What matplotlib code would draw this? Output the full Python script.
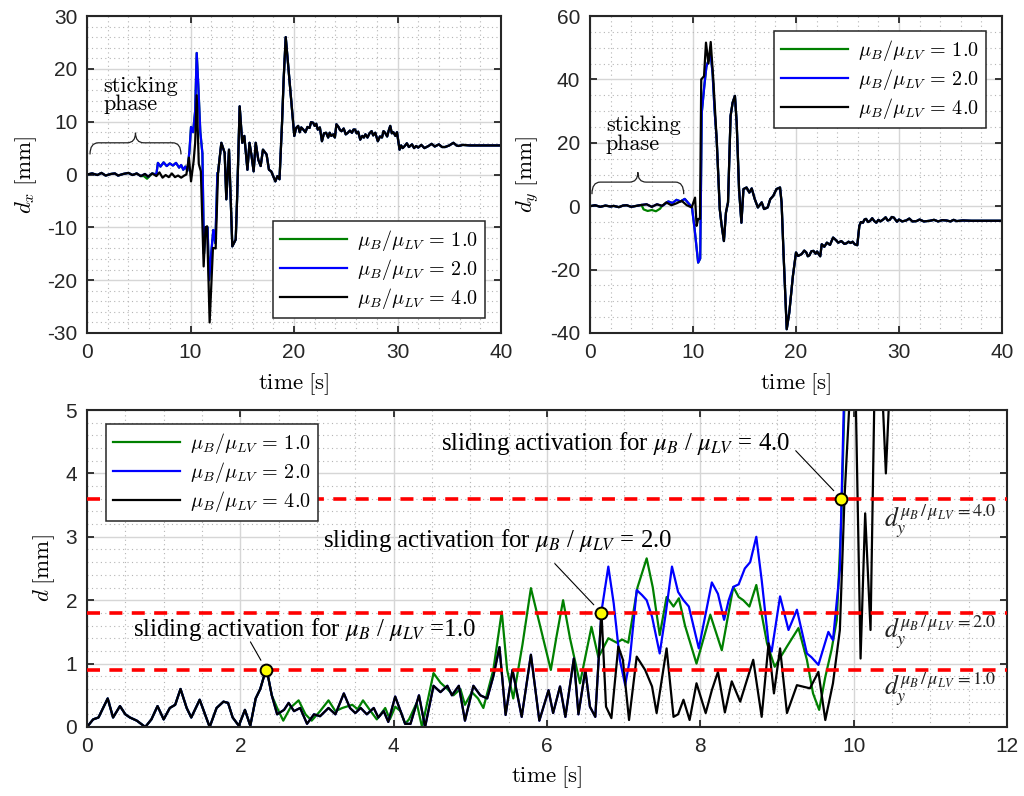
import matplotlib.pyplot as plt
import numpy as np
from matplotlib.path import Path
from matplotlib.patches import PathPatch
from matplotlib.ticker import MultipleLocator

plt.rcParams['font.family'] = ['Liberation Sans', 'DejaVu Sans']
plt.rcParams['mathtext.fontset'] = 'cm'
plt.rcParams['axes.unicode_minus'] = False

# ---------------- data: d_x (top left) ----------------
tx_k = [0, 0.5, 1.0, 1.4, 1.8, 2.3, 2.7, 3.0, 3.5, 4.0,
        4.4, 4.8, 5.2, 5.6, 5.9, 6.3, 6.7, 7.0, 7.3, 7.6,
        7.9, 8.2, 8.5, 8.8, 9.1, 9.4, 9.6, 9.85, 10.05, 10.3,
        10.45, 10.6, 10.8, 11.0, 11.27, 11.45, 11.6, 11.85, 12.17, 12.43,
        12.66, 12.98, 13.3, 13.46, 13.72, 14.04, 14.37, 14.5, 14.75, 15.0,
        15.2, 15.5, 15.7, 15.9, 16.1, 16.3, 16.55, 16.78, 17.0, 17.35,
        17.58, 17.8, 18.2, 18.4, 18.6, 18.85, 19.0, 19.2, 19.6, 20.03,
        20.2, 20.4, 20.55, 20.7, 20.9, 21.1, 21.3, 21.5, 21.65, 21.85,
        22.0, 22.15, 22.3, 22.5, 22.7, 22.9, 23.1, 23.3, 23.45, 23.6,
        23.8, 23.95, 24.1, 24.3, 24.45, 24.6, 24.8, 25.0, 25.2, 25.4,
        25.6, 25.75, 25.9, 26.05, 26.2, 26.4, 26.6, 26.75, 26.9, 27.1,
        27.3, 27.5, 27.65, 27.85, 28.1, 28.3, 28.5, 28.65, 28.8, 29.0,
        29.15, 29.3, 29.45, 29.6, 29.8, 29.95, 30.2, 30.35, 30.5, 30.7,
        30.9, 31.1, 31.4, 31.6, 31.8, 32.0, 32.3, 32.6, 33.0, 33.3,
        33.6, 34.0, 34.3, 34.6, 35.0, 35.4, 35.7, 35.9, 36.3, 37,
        40]
dx_k = [0, 0.2, -0.1, 0.3, -0.2, 0.1, 0.2, -0.2, 0.1, 0.3,
        -0.1, 0.2, -0.3, 0.1, -0.4, 0.2, -0.3, 0.4, -0.6, -0.1,
        -0.5, 0.2, -0.5, -0.2, -0.6, -0.2, 0.0, 3.2, -1.3, 2.5,
        6, 15, 2, 0.6, -17.4, -10, -9.8, -28, -13.9, -14,
        0.3, 6.0, 4.1, -4.7, 4.7, -13.6, -12.3, -4.7, 12.9, 6.0,
        7.3, 0.9, 6.0, 3.5, 0.6, 6.0, 2.8, 1.6, 4.7, 3.8,
        0.9, 0.6, -1.3, -0.3, -0.9, 10, 18, 26, 17, 7.3,
        8.8, 9.2, 8.0, 8.9, 8.5, 8.0, 9.0, 8.8, 9.9, 9.8,
        9.2, 9.6, 8.5, 8.9, 6.3, 7.8, 7.9, 7.0, 7.9, 7.3,
        7.6, 7.0, 9.5, 9.0, 8.4, 8.2, 8.7, 7.6, 7.9, 8.3,
        7.9, 8.5, 8.5, 7.8, 8.1, 6.6, 7.3, 7.0, 7.6, 7.0,
        7.8, 8.2, 7.4, 7.9, 6.3, 7.2, 7.0, 8.2, 7.9, 7.2,
        8.3, 9.2, 7.8, 8.0, 7.3, 8.0, 4.7, 5.5, 5.0, 5.4,
        5.9, 5.2, 5.7, 5.0, 5.4, 5.1, 5.6, 5.0, 5.4, 5.8,
        5.3, 5.7, 5.2, 5.2, 5.5, 6.0, 5.5, 5.4, 5.6, 5.5,
        5.5]
tx_b = [6.7, 6.85, 7.1, 7.4, 7.7, 8.0, 8.3, 8.6, 8.9, 9.1,
        9.3, 9.5, 9.7, 9.9, 10.05, 10.25, 10.45, 10.6, 10.75, 10.95,
        11.15, 11.3, 11.45, 11.65, 11.8, 12.0, 12.2, 12.4, 12.6]
dx_b = [0.0, 2.2, 1.5, 2.3, 1.6, 2.1, 1.7, 2.2, 1.3, 1.8,
        0.9, 1.5, 0.7, 4.5, 9.0, 8.0, 12.0, 23.0, 17.0, 8.0,
        4.0, -15.0, -10.0, -10.0, -20.0, -15.0, -10.5, -13.0, 0.3]
tx_g = [5.5, 5.8, 6.1]
dx_g = [-0.3, -0.8, -0.2]

# ---------------- data: d_y (top right) ----------------
ty_k = [0, 0.5, 1.0, 1.5, 2.0, 2.3, 2.8, 3.2, 3.56, 4.0,
        4.5, 5.0, 5.5, 6.0, 6.5, 7.0, 7.4, 7.9, 8.4, 8.9,
        9.4, 9.87, 10.2, 10.35, 10.5, 10.68, 10.8, 11.07, 11.26, 11.5,
        11.72, 11.97, 12.3, 12.6, 12.78, 13.0, 13.2, 13.4, 13.65, 13.85,
        14.07, 14.24, 14.47, 14.7, 14.9, 15.2, 15.47, 15.7, 16.0, 16.3,
        16.67, 16.9, 17.25, 17.5, 17.8, 18.1, 18.45, 18.6, 18.8, 19.1,
        19.35, 19.7, 20.0, 20.2, 20.55, 20.8, 21.0, 21.15, 21.3, 21.5,
        21.7, 21.9, 22.05, 22.2, 22.35, 22.5, 22.75, 23.0, 23.3, 23.6,
        23.85, 24.1, 24.4, 24.7, 24.9, 25.1, 25.3, 25.5, 25.7, 25.95,
        26.15, 26.3, 26.5, 26.65, 26.8, 27.0, 27.2, 27.4, 27.6, 27.8,
        28.0, 28.2, 28.5, 28.7, 28.9, 29.1, 29.3, 29.5, 29.8, 30.0,
        30.3, 30.7, 31.0, 31.3, 31.7, 32.0, 32.4, 33.0, 33.4, 33.8,
        34.2, 34.6, 35.0, 35.3, 35.6, 36.2, 37, 40]
dy_k = [0, 0.3, -0.2, 0.2, -0.1, 0.1, -0.3, 0.2, 0.3, -0.2,
        0.1, 0.4, 0.6, -0.2, 0.6, 0.1, 1.2, 0.3, 0.9, 1.7,
        0.3, -0.4, 2.7, -6.2, -4, -4, 40, 41, 51.6, 45,
        51.8, 40, 21, -1, -6, -11, -2, 1.2, 28.5, 32.7,
        34.8, 26.4, 5.4, -5.2, 5.4, 5.9, 4.3, 5.6, 2.2, -0.4,
        1.2, -0.9, -0.4, 2.2, 3.3, 5.4, 5.9, 1.2, -15.7, -38.8,
        -33.5, -22, -14.6, -15.7, -15.1, -14.0, -14.6, -15.8, -15.5, -14.2,
        -14.1, -15.0, -14.3, -15.1, -15.8, -12, -12.8, -11.5, -12.2, -9.9,
        -10.6, -11.5, -11.0, -11.9, -11.7, -11.2, -11.6, -11.2, -12, -12.3,
        -6.2, -5.0, -5.2, -4.2, -4.0, -5.0, -4.6, -3.8, -4.7, -5.2,
        -4.3, -4.8, -4.1, -3.5, -4.5, -4.3, -3.4, -3.6, -4.9, -4.2,
        -4.8, -4.5, -3.9, -4.8, -4.7, -4.2, -4.8, -4.6, -4.3, -4.8,
        -4.4, -4.5, -4.8, -4.3, -4.7, -4.5, -4.6, -4.6]
ty_b = [7.2, 7.6, 8.0, 8.4, 8.8, 9.2, 9.6, 9.9, 10.15, 10.35,
        10.5, 10.7, 10.85, 11.1, 11.3, 11.5, 11.7, 11.9, 12.1]
dy_b = [0.5, 1.5, 1.0, 2.0, 1.5, 2.3, 0.8, -0.4, -7, -13,
        -17.8, -16.5, 29.5, 38, 44, 46, 48.5, 42, 30]
ty_g = [5.2, 5.6, 6.0, 6.4, 6.8]
dy_g = [-1.0, -1.5, -1.2, -1.6, -0.8]

# ---------------- data: d (bottom) ----------------
t_k = [0, 0.08, 0.15, 0.27, 0.34, 0.43, 0.5, 0.56, 0.65, 0.76,
       0.84, 0.92, 1.0, 1.08, 1.15, 1.22, 1.3, 1.36, 1.47, 1.6,
       1.69, 1.78, 1.84, 1.9, 1.98, 2.06, 2.13, 2.2, 2.26, 2.34,
       2.41, 2.48, 2.57, 2.63, 2.7, 2.78, 2.87, 2.96, 3.04, 3.15,
       3.24, 3.35, 3.43, 3.5, 3.57, 3.65, 3.74, 3.8, 3.87, 3.93,
       4.02, 4.09, 4.15, 4.22, 4.33, 4.41, 4.52, 4.61, 4.7, 4.76,
       4.85, 4.93, 5.04, 5.13, 5.22, 5.3, 5.38, 5.46, 5.55, 5.67,
       5.79, 5.9, 6.02, 6.08, 6.17, 6.24, 6.35, 6.41, 6.5, 6.56,
       6.63, 6.71, 6.77, 6.84, 6.93, 6.99, 7.07, 7.17, 7.28, 7.37,
       7.43, 7.56, 7.65, 7.71, 7.78, 7.86, 7.95, 8.07, 8.15, 8.23,
       8.32, 8.41, 8.52, 8.69, 8.8, 8.89, 8.96, 9.04, 9.13, 9.26,
       9.43, 9.54, 9.63, 9.73, 9.82, 9.88, 9.94, 9.985, 10.03, 10.09,
       10.15, 10.22, 10.27, 10.33, 10.38, 10.42, 10.46, 10.6, 12]
d_k = [0, 0.12, 0.15, 0.45, 0.15, 0.33, 0.2, 0.15, 0.1, 0.0,
       0.12, 0.33, 0.12, 0.3, 0.35, 0.6, 0.3, 0.15, 0.43, 0.0,
       0.3, 0.4, 0.38, 0.15, 0.02, 0.27, 0.02, 0.45, 0.6, 0.93,
       0.5, 0.2, 0.27, 0.38, 0.25, 0.3, 0.05, 0.2, 0.17, 0.3,
       0.2, 0.53, 0.3, 0.22, 0.3, 0.2, 0.3, 0.15, 0.25, 0.08,
       0.48, 0.25, 0.05, 0.05, 0.5, 0.0, 0.65, 0.55, 0.65, 0.5,
       0.65, 0.1, 0.65, 0.5, 0.45, 0.8, 1.26, 0.19, 0.9, 0.16,
       1.14, 0.1, 0.58, 0.22, 0.64, 0.16, 1.08, 0.2, 0.9, 0.32,
       0.16, 1.82, 0.32, 0.14, 1.27, 1.06, 0.11, 1.11, 0.9, 0.64,
       0.22, 1.24, 0.16, 0.2, 0.43, 0.11, 0.69, 0.22, 0.58, 0.87,
       0.23, 0.72, 0.4, 1.06, 0.16, 1.32, 0.53, 1.24, 0.22, 0.66,
       0.61, 0.87, 0.11, 0.69, 1.53, 3.6, 5.0, 6.0, 5.0, 1.08,
       3.37, 1.53, 5.2, 6.5, 5.1, 4.0, 5.1, 8, 15]
t_b = [6.71, 6.8, 6.87, 6.95, 7.02, 7.08, 7.17, 7.24, 7.3, 7.37,
       7.47, 7.55, 7.63, 7.71, 7.78, 7.85, 7.98, 8.15, 8.23, 8.31,
       8.37, 8.43, 8.5, 8.58, 8.65, 8.73, 8.8, 8.89, 8.93, 9.04,
       9.15, 9.26, 9.39, 9.45, 9.54, 9.67, 9.73, 9.82, 9.87, 9.95]
d_b = [1.82, 2.53, 1.95, 1.06, 0.66, 1.06, 2.16, 2.08, 2.0, 1.74,
       1.16, 1.8, 2.53, 2.13, 2.0, 1.9, 1.24, 2.28, 2.1, 1.69,
       2.0, 2.21, 2.25, 2.5, 2.6, 3.0, 2.32, 1.32, 1.19, 2.06,
       1.53, 1.85, 1.16, 1.1, 0.98, 1.5, 1.37, 2.48, 5.0, 8]
t_g = [2.34, 2.41, 2.48, 2.56, 2.65, 2.76, 2.85, 2.93, 3.04, 3.15,
       3.24, 3.33, 3.46, 3.53, 3.6, 3.7, 3.78, 3.89, 3.95, 4.02,
       4.09, 4.15, 4.2, 4.3, 4.37, 4.52, 4.61, 4.7, 4.78, 4.87,
       4.93, 5.02, 5.1, 5.17, 5.3, 5.41, 5.48, 5.56, 5.68, 5.79,
       6.05, 6.12, 6.21, 6.3, 6.43, 6.58, 6.67, 6.8, 6.91, 6.98,
       7.06, 7.18, 7.3, 7.38, 7.47, 7.56, 7.65, 7.72, 7.8, 7.95,
       8.13, 8.28, 8.43, 8.5, 8.56, 8.64, 8.73, 8.87, 8.97, 9.13,
       9.28, 9.39, 9.47, 9.55, 9.63, 9.71, 9.78, 9.84, 9.9]
d_g = [0.93, 0.5, 0.3, 0.1, 0.3, 0.42, 0.2, 0.1, 0.25, 0.42,
       0.25, 0.3, 0.35, 0.28, 0.42, 0.25, 0.12, 0.3, 0.12, 0.32,
       0.25, 0.05, 0.12, 0.38, 0.0, 0.85, 0.7, 0.6, 0.5, 0.6,
       0.35, 0.55, 0.45, 0.3, 0.9, 1.82, 0.9, 0.45, 1.3, 2.19,
       0.9, 1.4, 2.0, 1.4, 0.69, 1.58, 1.1, 1.4, 1.33, 1.38,
       1.33, 2.2, 2.66, 2.2, 1.45, 2.05, 1.9, 2.03, 1.6, 1.0,
       1.77, 1.21, 2.21, 2.05, 2.0, 1.9, 2.24, 1.32, 0.95, 1.27,
       1.56, 1.06, 0.53, 0.27, 0.79, 1.21, 1.69, 3.3, 6]

ratios = ['1.0', '2.0', '4.0']
d_lim = [0.9, 1.8, 3.6]          # d_y thresholds
t_act = [2.34, 6.71, 9.84]        # sliding activation times

colors = ['#008000', '#0000ff', 'black']
labels = [r'$\mu_B/\mu_{LV}\, =\, %s$' % r for r in ratios]


def splice(t0, v0, t1, v1, tail=True):
    t0, v0 = np.asarray(t0, float), np.asarray(v0, float)
    lo = t0 < t1[0]
    hi = t0 > t1[-1]
    if not tail:
        hi[:] = False
    return (np.concatenate([t0[lo], t1, t0[hi]]),
            np.concatenate([v0[lo], v1, v0[hi]]))


def brace(ax, x0, x1, y0, y1, y2, w):
    xm = 0.5 * (x0 + x1)
    verts = [(x0, y0), (x0, y1), (x0 + w, y1), (xm - w, y1), (xm, y1), (xm, y2),
             (xm, y1), (xm + w, y1), (x1 - w, y1), (x1, y1), (x1, y0)]
    codes = [Path.MOVETO, Path.CURVE3, Path.CURVE3, Path.LINETO, Path.CURVE3, Path.CURVE3,
             Path.CURVE3, Path.CURVE3, Path.LINETO, Path.CURVE3, Path.CURVE3]
    ax.add_patch(PathPatch(Path(verts, codes), fc='none', ec='#222222', lw=0.9))


def style(ax, xmin, ymin):
    ax.xaxis.set_minor_locator(MultipleLocator(xmin))
    ax.yaxis.set_minor_locator(MultipleLocator(ymin))
    ax.grid(True, which='major', color='#d6d6d6', lw=1.0, ls='-')
    ax.grid(True, which='minor', color='#b5b5b5', lw=0.8, ls=(0, (1, 3)))
    ax.set_axisbelow(True)
    ax.tick_params(which='major', direction='in', length=5, width=1.3,
                   top=True, right=True, labelsize=15, pad=7, colors='#262626')
    ax.tick_params(which='minor', length=0)
    for s in ax.spines.values():
        s.set_linewidth(1.5)
        s.set_color('#262626')


def legend(ax, loc, anchor):
    leg = ax.legend(loc=loc, bbox_to_anchor=anchor, borderaxespad=0, fontsize=14.5,
                    handlelength=3.3, handletextpad=0.5, labelspacing=0.2,
                    borderpad=0.35, fancybox=False, framealpha=1, edgecolor='#262626')
    leg.get_frame().set_linewidth(1.1)


def draw(ax, series):
    for (t, v), c, lab in zip(series, colors, labels):
        ax.plot(t, v, color=c, lw=1.6, label=lab, solid_joinstyle='round')


fig = plt.figure(figsize=(10.24, 7.96), dpi=100)
W, H = 1024, 796
ax1 = fig.add_axes([87 / W, 1 - 333 / H, 414 / W, 317 / H])
ax2 = fig.add_axes([590 / W, 1 - 333 / H, 412 / W, 317 / H])
ax3 = fig.add_axes([87 / W, 1 - 727 / H, 920 / W, 317 / H])

# ---- top left ----
tb, vb = splice(tx_k, dx_k, tx_b, dx_b)
tg, vg = splice(tb, vb, tx_g, dx_g)
draw(ax1, [(tg, vg), (tb, vb), (tx_k, dx_k)])
ax1.set_xlim(0, 40)
ax1.set_ylim(-30, 30)
ax1.xaxis.set_major_locator(MultipleLocator(10))
ax1.yaxis.set_major_locator(MultipleLocator(10))
style(ax1, 2, 2)
ax1.set_xlabel(r'$\mathrm{time}\;[\mathrm{s}]$', fontsize=16.5, labelpad=7)
ax1.set_ylabel(r'$d_x\;[\mathrm{mm}]$', fontsize=16.5, labelpad=6)
legend(ax1, 'lower right', (0.961, 0.047))
brace(ax1, 0.29, 9.08, 3.8, 6.0, 7.9, 0.8)
ax1.text(1.55, 18.6, 'sticking\nphase', family='cmr10', fontsize=16,
         ha='left', va='top', linespacing=0.95)

# ---- top right ----
tb, vb = splice(ty_k, dy_k, ty_b, dy_b)
tg, vg = splice(tb, vb, ty_g, dy_g)
draw(ax2, [(tg, vg), (tb, vb), (ty_k, dy_k)])
ax2.set_xlim(0, 40)
ax2.set_ylim(-40, 60)
ax2.xaxis.set_major_locator(MultipleLocator(10))
ax2.yaxis.set_major_locator(MultipleLocator(20))
style(ax2, 2, 5)
ax2.set_xlabel(r'$\mathrm{time}\;[\mathrm{s}]$', fontsize=16.5, labelpad=7)
ax2.set_ylabel(r'$d_y\;[\mathrm{mm}]$', fontsize=16.5, labelpad=6)
legend(ax2, 'upper right', (0.961, 0.953))
brace(ax2, 0.19, 9.1, 3.8, 7.6, 10.7, 0.8)
ax2.text(1.55, 28.5, 'sticking\nphase', family='cmr10', fontsize=16,
         ha='left', va='top', linespacing=0.95)

# ---- bottom ----
tb, vb = splice(t_k, d_k, t_b, d_b, tail=False)
tg, vg = splice(t_k, d_k, t_g, d_g, tail=False)
draw(ax3, [(tg, vg), (tb, vb), (t_k, d_k)])
for y in d_lim:
    ax3.axhline(y, color='#ff0000', lw=2.6, ls=(0, (3.6, 2.6)), zorder=3)
ax3.plot(t_act, d_lim, 'o', mfc='#ffff00', mec='black', ms=8.5, mew=1.4, zorder=6)
ax3.set_xlim(0, 12)
ax3.set_ylim(0, 5)
ax3.xaxis.set_major_locator(MultipleLocator(2))
ax3.yaxis.set_major_locator(MultipleLocator(1))
style(ax3, 0.5, 0.2)
ax3.set_xlabel(r'$\mathrm{time}\;[\mathrm{s}]$', fontsize=16.5, labelpad=6)
ax3.set_ylabel(r'$d\;[\mathrm{mm}]$', fontsize=16.5, labelpad=6)
legend(ax3, 'upper left', (0.0207, 0.956))

txt_pos = [(0.6, 1.435), (3.08, 2.84), (4.62, 4.37)]
eqs = ['=', '= ', '= ']
offs = [(-11.5, 20.2), (-33.6, 35.5), (-32.9, 34.6)]
for (x, y), r, e, ta, dl, off in zip(txt_pos, ratios, eqs, t_act, d_lim, offs):
    ax3.text(x, y, r'sliding activation for $\mu_B$ / $\mu_{LV}$ ' + e + r,
             family='Liberation Serif', math_fontfamily='stix', fontsize=17.8,
             ha='left', va='baseline', zorder=7)
    ax3.annotate('', xy=(ta, dl), xytext=off, textcoords='offset points',
                 arrowprops=dict(arrowstyle='-', color='black', lw=0.8,
                                 shrinkA=0, shrinkB=8))

lab_pos = [0.5, 1.4, 3.15]
for y, r in zip(lab_pos, ratios):
    ax3.text(10.4, y, r'$d_y^{\mu_B\,/\,\mu_{LV}\,=%s}$' % r,
             math_fontfamily='stix', fontsize=18.5, ha='left', va='baseline',
             color='#222222')

fig.savefig('out.png', dpi=100)
